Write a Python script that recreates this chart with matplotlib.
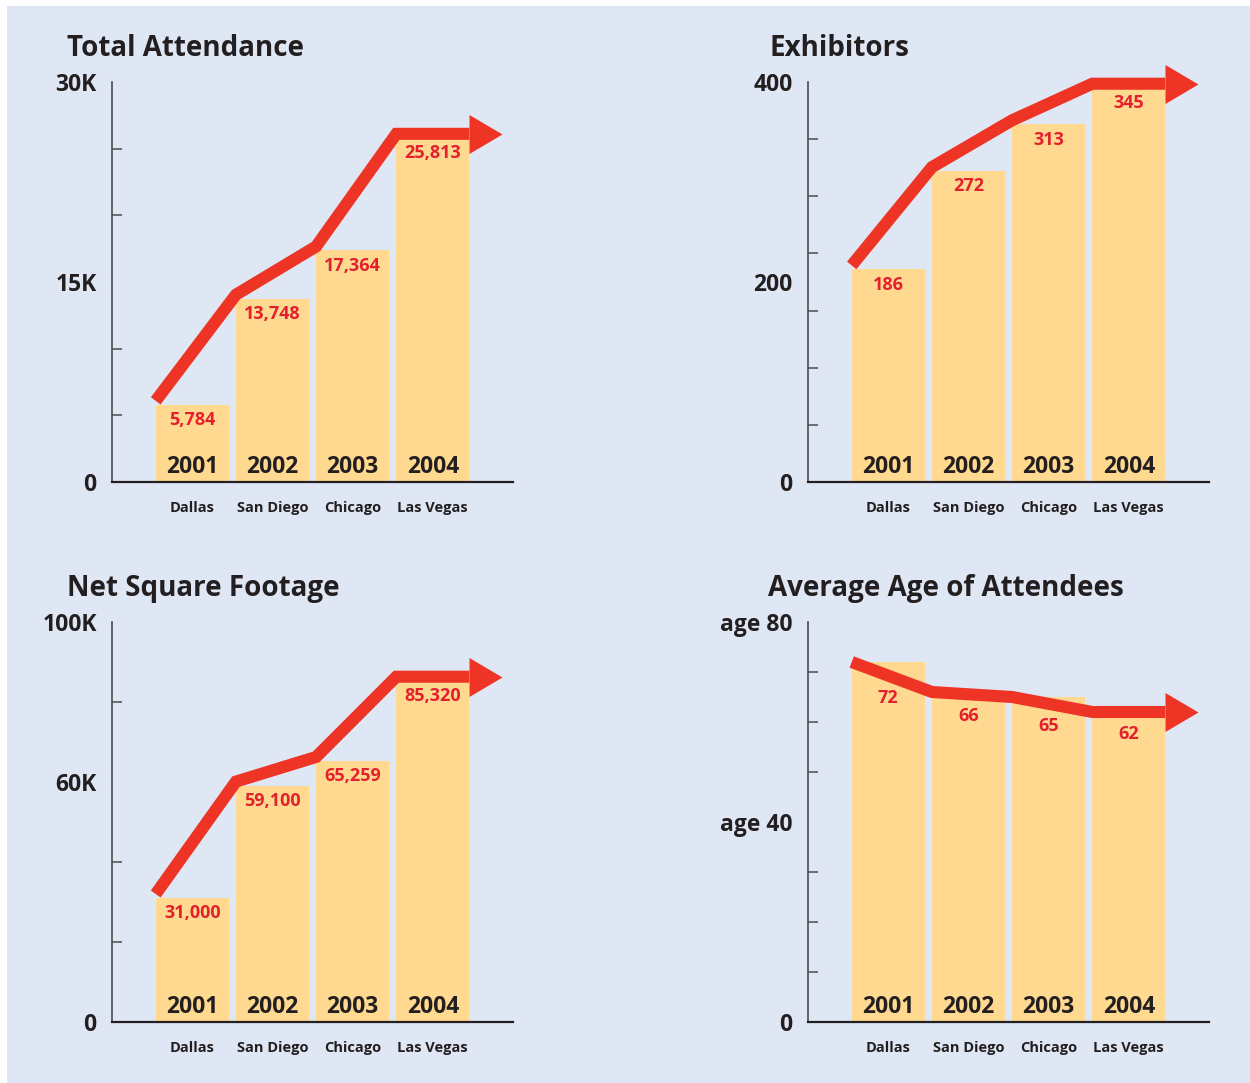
import numpy as np
import matplotlib
matplotlib.use("Agg")
import matplotlib.pyplot as plt
import matplotlib.transforms as mtransforms
from matplotlib.patches import Rectangle
from matplotlib.path import Path

plt.rcParams['font.family'] = ['Open Sans', 'DejaVu Sans']

###############################################################
# Datos
cities = ['Dallas', 'San Diego', 'Chicago', 'Las Vegas']
years = ['2001', '2002', '2003', '2004']

attendance = [5784, 13748, 17364, 25813]
exhibitors = [186, 272, 313, 345]
net_sq_ft = [31000, 59100, 65259, 85320]
avg_age = [72, 66, 65, 62]

# Ejes (las etiquetas tal como aparecen en el original)
att_ticks, att_ticklabels = [0, 15000, 30000], ['0', '15K', '30K']
exh_ticks, exh_ticklabels = [0, 175, 350], ['0', '200', '400']
nsf_ticks, nsf_ticklabels = [0, 60000, 100000], ['0', '60K', '100K']
age_ticks, age_ticklabels = [0, 40, 80], ['0', 'age 40', 'age 80']
###############################################################
# Colores
BG = '#E0E7F4'
BAR = '#FFD98F'
RED = '#EE3424'
VAL_RED = '#E5202E'
DARK = '#231F20'
AXIS = '#4D4D4F'

W, H = 1250, 1083
fig = plt.figure(figsize=(W / 100, H / 100), dpi=100, facecolor='white')
fig.add_artist(Rectangle((7 / W, 0), 1 - 7 / W, 1 - 6 / H, transform=fig.transFigure,
                         facecolor=BG, edgecolor='none', zorder=-10))

# punta de flecha (base en el origen, apunta a la derecha)
head = Path([(0, -19.5), (33, 0), (0, 19.5), (0, -19.5)],
            [Path.MOVETO, Path.LINETO, Path.LINETO, Path.CLOSEPOLY])


def panel(left_px, top_px, values, title, ymax, step, ticks, ticklabels,
          title_dx, line_off, label_on_line=False):
    ax = fig.add_axes([left_px / W, 1 - (top_px + 400) / H, 401 / W, 400 / H])
    ax.set_facecolor('none')
    x = np.arange(len(values))
    bw = 0.91
    ax.bar(x, values, width=bw, color=BAR, zorder=2)

    # linea roja con flecha
    lx = list(x - bw / 2) + [x[-1] + bw / 2]
    ly = list(values) + [values[-1]]
    tr = mtransforms.offset_copy(ax.transData, fig=fig, x=0, y=line_off, units='dots')
    ax.plot(lx, ly, color=RED, lw=8.7, solid_joinstyle='miter',
            solid_capstyle='butt', transform=tr, zorder=3, clip_on=False)
    ax.plot([lx[-1]], [ly[-1]], marker=head, ms=47.5, mew=0, color=RED,
            transform=tr, zorder=3, clip_on=False)

    # etiquetas de valor
    for i, v in enumerate(values):
        txt = f'{v:,}'
        if label_on_line:
            yv = np.interp(i, lx, ly)
            off = -16
        else:
            yv = v
            off = -11
        ax.annotate(txt, (i, yv), xytext=(0, off), textcoords='offset points',
                    ha='center', va='center', fontsize=13, fontweight='bold',
                    color=VAL_RED, zorder=4)
        ax.annotate(years[i], (i, 0), xytext=(0, 11), textcoords='offset points',
                    ha='center', va='center', fontsize=16.5, fontweight='bold',
                    color=DARK, zorder=4)
        ax.annotate(cities[i], (i, 0), xycoords=('data', 'axes fraction'),
                    xytext=(0, -18.5), textcoords='offset points',
                    ha='center', va='center', fontsize=10.5, fontweight='bold',
                    color=DARK, annotation_clip=False)

    ax.set_xlim(-1, 4)
    ax.set_ylim(0, ymax)
    ax.set_xticks([])
    ax.set_yticks(ticks)
    ax.set_yticklabels(ticklabels)
    ax.set_yticks(np.arange(0, ymax + step / 2, step), minor=True)
    ax.tick_params(axis='y', which='major', length=0, pad=11, labelsize=16.5,
                   labelcolor=DARK)
    for lab in ax.get_yticklabels():
        lab.set_fontweight('bold')
    ax.tick_params(axis='y', which='minor', direction='in', length=7,
                   width=1.1, color=AXIS)
    for s in ['top', 'right']:
        ax.spines[s].set_visible(False)
    ax.spines['left'].set_color(AXIS)
    ax.spines['left'].set_linewidth(1.2)
    ax.spines['bottom'].set_color(DARK)
    ax.spines['bottom'].set_linewidth(1.6)
    ax.spines['left'].set_zorder(1)

    ax.annotate(title, (0, 1), xycoords='axes fraction', xytext=(title_dx, 26),
                textcoords='offset pixels', ha='left', va='baseline',
                fontsize=20, fontweight='bold', color=DARK, annotation_clip=False)
    return ax


panel(112, 82, attendance, 'Total Attendance', 30000, 5000,
      att_ticks, att_ticklabels, -45, 4)
panel(808, 82, exhibitors, 'Exhibitors', 350, 50,
      exh_ticks, exh_ticklabels, -39, 4)
panel(112, 622, net_sq_ft, 'Net Square Footage', 100000, 20000,
      nsf_ticks, nsf_ticklabels, -45, 4)
panel(808, 622, avg_age, 'Average Age of Attendees', 80, 10,
      age_ticks, age_ticklabels, -40, 0, label_on_line=True)

fig.savefig('out.png', dpi=100, facecolor='white')
